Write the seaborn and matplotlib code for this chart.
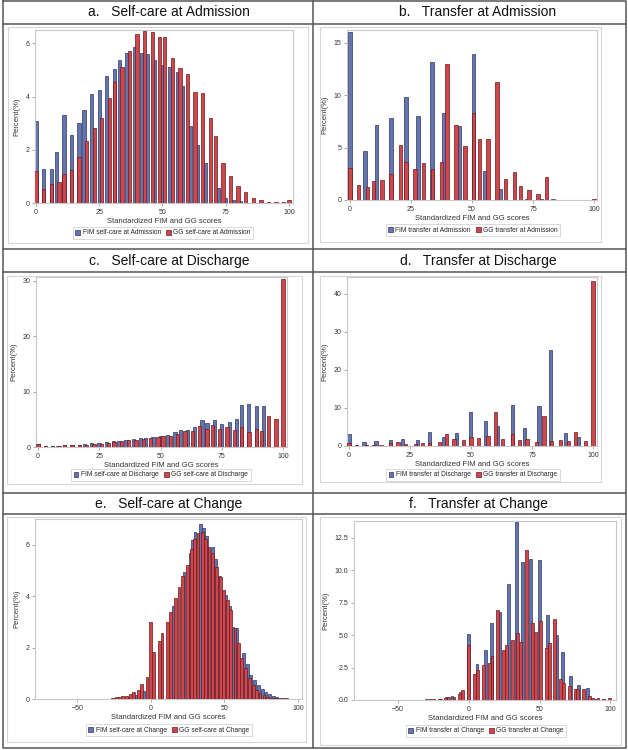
import matplotlib
matplotlib.use("Agg")
import matplotlib.pyplot as plt
import seaborn as sns
from matplotlib.patches import Rectangle, Patch
from matplotlib.ticker import FormatStrFormatter

# a. Self-care at Admission
fim_sc_adm_x = [0, 3.0, 6.1, 8.0, 11.1, 14.0, 17.0, 19.0, 22.0, 25.0, 27.9, 31.0, 32.9, 35.9, 38.9,
                41.9, 43.9, 46.9, 49.9, 53.0, 55.9, 57.9, 60.9, 63.9, 66.9, 71.9, 75.0, 77.9, 80.9]
fim_sc_adm_y = [3.07, 1.27, 1.27, 1.92, 3.29, 2.57, 3.02, 3.49, 4.09, 4.25, 4.77, 5.04, 5.38, 5.65, 5.85,
                5.62, 5.58, 5.37, 5.19, 5.11, 4.93, 4.40, 2.89, 2.17, 1.52, 0.56, 0.17, 0.13, 0.06]
gg_sc_adm_x = [0, 3.0, 6.1, 9.1, 11.1, 14.0, 17.0, 20.0, 23.1, 25.9, 29.0, 30.9, 34.0, 37.0, 39.9, 42.9,
               46.0, 48.9, 50.9, 53.9, 56.9, 59.8, 62.8, 65.9, 68.9, 70.9, 73.9, 76.9, 79.8, 82.9, 85.9,
               88.9, 91.8, 94.9, 97.9, 100]
gg_sc_adm_y = [1.22, 0.52, 0.70, 0.78, 1.08, 1.25, 1.73, 2.32, 2.80, 3.20, 3.93, 4.55, 5.12, 5.70, 6.35, 6.45,
               6.43, 6.25, 6.22, 5.43, 5.07, 4.83, 4.18, 4.15, 3.18, 2.50, 1.50, 1.00, 0.65, 0.43, 0.20,
               0.10, 0.05, 0.05, 0.03, 0.10]

# b. Transfer at Admission
fim_tr_adm_x = [0, 6.1, 10.9, 16.9, 22.9, 27.8, 33.7, 38.6, 44.6, 50.5, 55.4, 61.4, 72.3, 78.2, 83.1, 88, 94]
fim_tr_adm_y = [16.05, 4.69, 7.18, 7.85, 9.80, 8.01, 13.18, 8.30, 7.02, 13.88, 2.78, 1.02, 0.10, 0.06, 0.05, 0.04, 0.04]
gg_tr_adm_x = [0, 3.5, 7.2, 9.7, 13.2, 16.9, 20.6, 22.9, 26.6, 30.1, 33.8, 37.5, 39.8, 43.5, 47.1, 50.6,
               53.1, 56.6, 60.2, 63.8, 67.4, 69.9, 73.4, 77.1, 80.6, 100]
gg_tr_adm_y = [3.03, 1.44, 1.21, 1.82, 1.88, 2.52, 5.20, 3.61, 3.00, 3.51, 3.00, 3.64, 12.99, 7.15, 5.17, 8.27,
               5.81, 5.81, 11.27, 1.98, 2.65, 1.37, 0.96, 0.61, 2.23, 0.13]

# c. Self-care at Discharge
fim_sc_dis_x = [0, 3.0, 5.9, 7.9, 10.9, 13.9, 16.9, 19.0, 21.9, 24.9, 27.9, 30.9, 32.9, 35.9, 38.9, 41.9,
                43.9, 46.9, 49.9, 52.9, 55.9, 58.0, 60.9, 63.9, 66.9, 69.0, 72.0, 75.0, 78.0, 80.9, 83.0,
                86.0, 89.0, 91.9]
fim_sc_dis_y = [0.6, 0.15, 0.15, 0.2, 0.3, 0.3, 0.35, 0.5, 0.65, 0.75, 0.9, 1.0, 1.15, 1.3, 1.5, 1.6,
                1.7, 1.8, 2.0, 2.2, 2.65, 3.05, 3.15, 3.55, 4.79, 4.3, 4.79, 4.18, 4.6, 5.03, 7.64,
                7.76, 7.39, 7.39]
gg_sc_dis_x = [0, 3.0, 5.9, 8.9, 10.9, 13.9, 16.9, 19.9, 22.9, 25.9, 28.9, 31.0, 34.0, 37.0, 40.0, 43.0,
               46.0, 49.0, 51.0, 54.0, 57.0, 60.0, 63.0, 66.0, 69.0, 71.1, 74.1, 77.1, 80.1, 83.1, 86.1,
               89.1, 91.1, 94.1, 97.1, 100]
gg_sc_dis_y = [0.5, 0.15, 0.1, 0.15, 0.3, 0.3, 0.3, 0.4, 0.5, 0.6, 0.8, 0.9, 1.05, 1.2, 1.3, 1.4,
               1.6, 1.75, 1.95, 2.05, 2.3, 2.8, 2.95, 3.76, 3.27, 3.94, 3.2, 3.63, 3.09, 3.7, 2.79,
               3.33, 2.85, 5.51, 4.97, 30.36]

# d. Transfer at Discharge
fim_tr_dis_x = [0, 6.1, 11.1, 17.1, 22.0, 28.1, 32.9, 38.9, 44.0, 49.9, 56.0, 60.8, 66.9, 71.9, 77.9, 82.6, 88.8, 93.8]
fim_tr_dis_y = [3.13, 1.04, 1.3, 1.57, 1.74, 1.57, 3.65, 2.35, 3.39, 8.87, 6.61, 5.22, 10.7, 4.78, 10.43, 25.2, 3.48, 2.26]
gg_tr_dis_x = [0, 3.1, 7.2, 10.2, 13.1, 17.1, 20.1, 23.2, 27.2, 30.2, 32.9, 37.0, 40.0, 43.0, 47.0, 50.0,
               53.0, 57.0, 60.0, 63.0, 66.9, 69.9, 72.9, 76.9, 79.9, 82.9, 86.7, 89.9, 92.9, 96.9, 100]
gg_tr_dis_y = [0.87, 0.35, 0.26, 0.35, 0.26, 0.7, 1.04, 0.61, 0.61, 0.7, 0.87, 1.04, 3.13, 1.83, 1.48, 2.43,
               2.09, 2.61, 8.96, 1.74, 3.13, 1.48, 1.74, 1.13, 7.91, 1.22, 1.57, 1.22, 3.57, 1.3, 43.3]

# e. Self-care at Change
fim_sc_chg_x = [-25, -20, -15, -10, -5, 15.4, 22.6, 26.7, 28.3, 30.1, 34.0, 35.7, 38.0, 41.9, 44.1, 46.8,
                50.5, 53.5, 55.9, 58.1, 63.1, 65.6, 68.0, 70.6, 73.2, 75.8, 78.2, 80.7, 83.2, 85.7, 88.5, 92]
fim_sc_chg_y = [0.02, 0.04, 0.07, 0.15, 0.3, 3.61, 4.92, 5.67, 6.2, 6.5, 6.82, 6.65, 6.35, 5.9, 5.45, 4.78,
                4.05, 3.6, 2.8, 2.75, 1.78, 1.38, 0.95, 0.75, 0.55, 0.38, 0.28, 0.18, 0.12, 0.08, 0.05, 0.02]
gg_sc_chg_x = [-26, -23, -21, -19, -16.5, -14, -11.5, -8.4, -6.1, -2.5, 0, 1.8, 5.7, 7.7, 11.5, 13.6,
               17.0, 19.2, 21.7, 25.1, 27.4, 29.6, 32.1, 35.1, 37.3, 39.6, 42.1, 44.6, 47.3, 49.5, 52.0,
               54.0, 57.2, 59.5, 61.8, 64.5, 67.2, 69.5, 71.9, 74.2, 76.9, 79.2, 81.9, 84.5, 86.7, 90]
gg_sc_chg_y = [0.04, 0.06, 0.08, 0.12, 0.10, 0.19, 0.26, 0.36, 0.58, 0.87, 2.99, 1.83, 2.24, 2.56, 2.98, 3.38,
               3.92, 4.34, 4.79, 5.22, 5.83, 6.23, 6.45, 6.50, 6.22, 5.93, 5.67, 5.13, 4.74, 4.25, 3.86,
               3.47, 2.76, 2.18, 1.59, 1.20, 0.82, 0.56, 0.36, 0.23, 0.14, 0.08, 0.05, 0.04, 0.03, 0.02]

# f. Transfer at Change
fim_tr_chg_x = [-60, -50, -40, -30, -20, -16, -11.8, -5.9, 0, 5.9, 11.8, 16.0, 21.9, 27.8, 33.7, 38.0,
                43.9, 50.0, 55.9, 61.8, 66.0, 71.9, 77.8, 83.7, 89.6, 95.5]
fim_tr_chg_y = [0.02, 0.02, 0.03, 0.04, 0.08, 0.2, 0.34, 0.62, 5.05, 2.81, 3.89, 5.95, 6.8, 8.97, 13.74, 10.67,
                10.88, 10.77, 6.57, 5.0, 3.69, 1.86, 1.13, 0.95, 0.08, 0.05]
gg_tr_chg_x = [-26.7, -24.5, -20.5, -16.5, -14.4, -10.4, -6.4, -4.2, 0, 4.2, 6.4, 10.4, 14.4, 16.5, 20.5,
               24.5, 26.7, 30.7, 34.7, 36.8, 40.6, 44.8, 46.9, 50.9, 55.0, 56.8, 60.8, 64.9, 67.0, 71.0,
               75.0, 77.1, 81.1, 85.1, 87.3, 91.3, 95.3, 99.3]
gg_tr_chg_y = [0.05, 0.07, 0.10, 0.13, 0.20, 0.26, 0.46, 0.77, 4.25, 1.98, 2.32, 2.71, 2.84, 3.40, 6.96,
               3.87, 4.25, 4.59, 5.20, 4.51, 11.55, 5.93, 5.28, 6.06, 4.00, 4.38, 6.26, 1.60, 1.29, 1.11,
               0.85, 0.82, 0.85, 0.28, 0.18, 0.13, 0.10, 0.15]

titles = ["a.   Self-care at Admission", "b.   Transfer at Admission",
          "c.   Self-care at Discharge", "d.   Transfer at Discharge",
          "e.   Self-care at Change", "f.   Transfer at Change"]
legend_labels = [("FIM self-care at Admission", "GG self-care at Admission"),
                 ("FIM transfer at Admission", "GG transfer at Admission"),
                 ("FIM self-care at Discharge", "GG self-care at Discharge"),
                 ("FIM transfer at Discharge", "GG transfer at Discharge"),
                 ("FIM self-care at Change", "GG self-care at Change"),
                 ("FIM transfer at Change", "GG transfer at Change")]
series = [(fim_sc_adm_x, fim_sc_adm_y, gg_sc_adm_x, gg_sc_adm_y),
          (fim_tr_adm_x, fim_tr_adm_y, gg_tr_adm_x, gg_tr_adm_y),
          (fim_sc_dis_x, fim_sc_dis_y, gg_sc_dis_x, gg_sc_dis_y),
          (fim_tr_dis_x, fim_tr_dis_y, gg_tr_dis_x, gg_tr_dis_y),
          (fim_sc_chg_x, fim_sc_chg_y, gg_sc_chg_x, gg_sc_chg_y),
          (fim_tr_chg_x, fim_tr_chg_y, gg_tr_chg_x, gg_tr_chg_y)]

BLUE, BLUE_EDGE = "#6575AD", "#2A3566"
RED, RED_EDGE = "#CF474C", "#6B1A1C"
W, H = 628, 750

sns.set_theme(style="white")
plt.rcParams["font.family"] = ["Liberation Sans", "DejaVu Sans"]

fig = plt.figure(figsize=(W / 100, H / 100), dpi=100)


def rect(x0, y0, x1, y1):
    return [x0 / W, 1 - y1 / H, (x1 - x0) / W, (y1 - y0) / H]


# table grid
grid = fig.add_axes([0, 0, 1, 1])
grid.set_xlim(0, W)
grid.set_ylim(H, 0)
grid.axis("off")
line_kw = dict(color="#555555", lw=1.1)
grid.plot([3, 626, 626, 3, 3], [1, 1, 748, 748, 1], **line_kw)
for yy in [24, 249, 272, 493, 514]:
    grid.plot([3, 626], [yy, yy], **line_kw)
grid.plot([313, 313], [1, 748], **line_kw)

boxes = [(8, 27, 308, 243), (320, 27, 601, 242), (7, 276, 302, 484),
         (320, 276, 601, 482), (7, 517, 306, 742), (320, 517, 621, 745)]
for x0, y0, x1, y1 in boxes:
    grid.add_patch(Rectangle((x0, y0), x1 - x0, y1 - y0, fill=False, ec="#d6d6d6", lw=0.8))

title_pos = [(169, 12), (478, 12), (169, 261), (478, 261), (169, 504), (478, 504)]
for (tx, ty), t in zip(title_pos, titles):
    grid.text(tx, ty, t, ha="center", va="center", fontsize=10, color="#111111")

axes_px = [(35, 30, 293, 203), (347, 30, 597, 200), (36, 277, 287, 447),
           (347, 277, 597, 446), (35, 519, 302, 699), (354, 521, 616, 700)]
xlims = [(-0.4, 101.6), (-1.2, 101.2), (-0.8, 101.6), (-0.8, 101.6), (-78.6, 102.7), (-81, 104)]
ylims = [(0, 6.5), (0, 16.2), (0, 30.7), (0, 44.4), (0, 7.0), (0, 13.8)]
yticks = [[0, 2, 4, 6], [0, 5, 10, 15], [0, 10, 20, 30], [0, 10, 20, 30, 40],
          [0, 2, 4, 6], [0, 2.5, 5, 7.5, 10, 12.5]]
xticks = [[0, 25, 50, 75, 100]] * 4 + [[-50, 0, 50, 100]] * 2
widths = [1.3, 1.4, 1.3, 1.4, 1.9, 2.0]
legend_pos = [(163, 233), (473, 230), (161, 475), (473, 475), (169, 730), (486, 731)]

for i in range(6):
    ax = fig.add_axes(rect(*axes_px[i]))
    fx, fy, gx, gy = series[i]
    ax.bar(fx, fy, width=widths[i], color=BLUE, edgecolor=BLUE_EDGE, linewidth=0.5, zorder=2)
    ax.bar(gx, gy, width=widths[i], color=RED, edgecolor=RED_EDGE, linewidth=0.5, zorder=3)
    ax.set_xlim(*xlims[i])
    ax.set_ylim(*ylims[i])
    ax.set_xticks(xticks[i])
    ax.set_yticks(yticks[i])
    if i == 5:
        ax.yaxis.set_major_formatter(FormatStrFormatter("%.1f"))
    ax.tick_params(axis="both", labelsize=5, length=2, width=0.5, color="#888888",
                   pad=2, labelcolor="#333333", left=True, bottom=True)
    for sp in ax.spines.values():
        sp.set_color("#c8c8c8")
        sp.set_linewidth(0.8)
    ax.set_xlabel("Standardized FIM and GG scores", fontsize=5.5, color="#333333", labelpad=1.5)
    ax.set_ylabel("Percent(%)", fontsize=5.5, color="#333333", labelpad=4)
    handles = [Patch(facecolor=BLUE, edgecolor=BLUE_EDGE, lw=0.5),
               Patch(facecolor=RED, edgecolor=RED_EDGE, lw=0.5)]
    lx, ly = legend_pos[i]
    leg = ax.legend(handles, legend_labels[i], loc="center", ncol=2,
                    bbox_to_anchor=(lx / W, 1 - ly / H), bbox_transform=fig.transFigure,
                    fontsize=4.8, frameon=True, fancybox=False, edgecolor="#c8c8c8",
                    handlelength=0.7, handleheight=0.7, handletextpad=0.4,
                    columnspacing=0.8, borderpad=0.35)
    leg.get_frame().set_linewidth(0.6)

fig.savefig("out.png", dpi=100)
